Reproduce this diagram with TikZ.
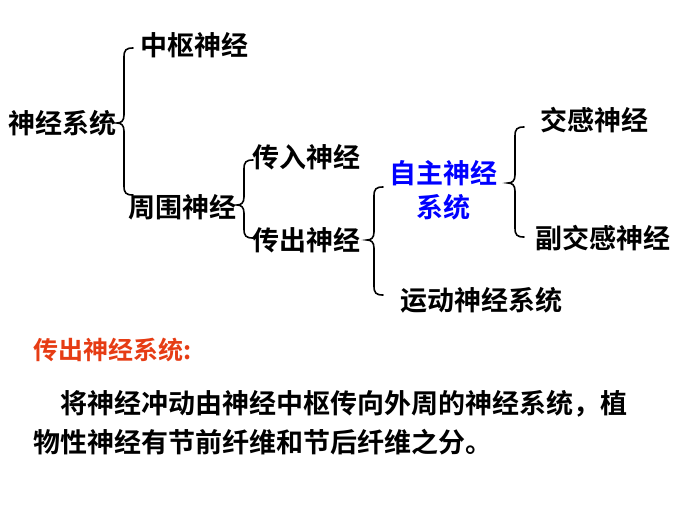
\documentclass[tikz,border=0pt]{standalone}
\usepackage{fontspec}
\newfontfamily\cjk{Noto Sans CJK SC}[BoldFont={* Bold}]
\begin{document}
\begin{tikzpicture}[x=1pt,y=-1pt,
  lab/.style={font=\cjk\bfseries\fontsize{27}{34}\selectfont,inner sep=0pt,anchor=west},
  br/.style={line width=1.6pt,line cap=round}]
\useasboundingbox (0,0) rectangle (700,525);
\newcommand\brc[4]{% x, top, mid, bottom
  \draw[br] (#1+9,#2) .. controls (#1+2,#2) and (#1,#2+2) .. (#1,#2+9) -- (#1,#3-8)
    .. controls (#1,#3-2) and (#1-3,#3) .. (#1-7,#3)
    .. controls (#1-3,#3) and (#1,#3+2) .. (#1,#3+8) -- (#1,#4-9)
    .. controls (#1,#4-2) and (#1+2,#4) .. (#1+9,#4);}
\node[lab] (ns) at (8,123) {神经系统};
\node[lab] (zs) at (140,45) {中枢神经};
\node[lab] (zw) at (128,207) {周围神经};
\node[lab] (cr) at (252,157) {传入神经};
\node[lab] (cc) at (252,240) {传出神经};
\node[lab,text=blue,align=center,anchor=center] (zz) at (443,190) {自主神经\\系统};
\node[lab] (yd) at (400,300) {运动神经系统};
\node[lab] (jg) at (540,120) {交感神经};
\node[lab] (fj) at (535,238) {副交感神经};
\brc{124}{48}{123}{195}
\brc{244}{160}{205}{238}
\brc{374}{187}{240}{295}
\brc{515}{127}{183}{237}
\node[lab,text={rgb,255:red,230;green,60;blue,20},font=\cjk\bfseries\fontsize{25}{30}\selectfont] (t) at (33,350) {传出神经系统:};
\node[lab] (p1) at (33,404) {\hspace*{27pt}将神经冲动由神经中枢传向外周的神经系统，植};
\node[lab] (p2) at (33,442) {物性神经有节前纤维和节后纤维之分。};
\end{tikzpicture}
\end{document}
